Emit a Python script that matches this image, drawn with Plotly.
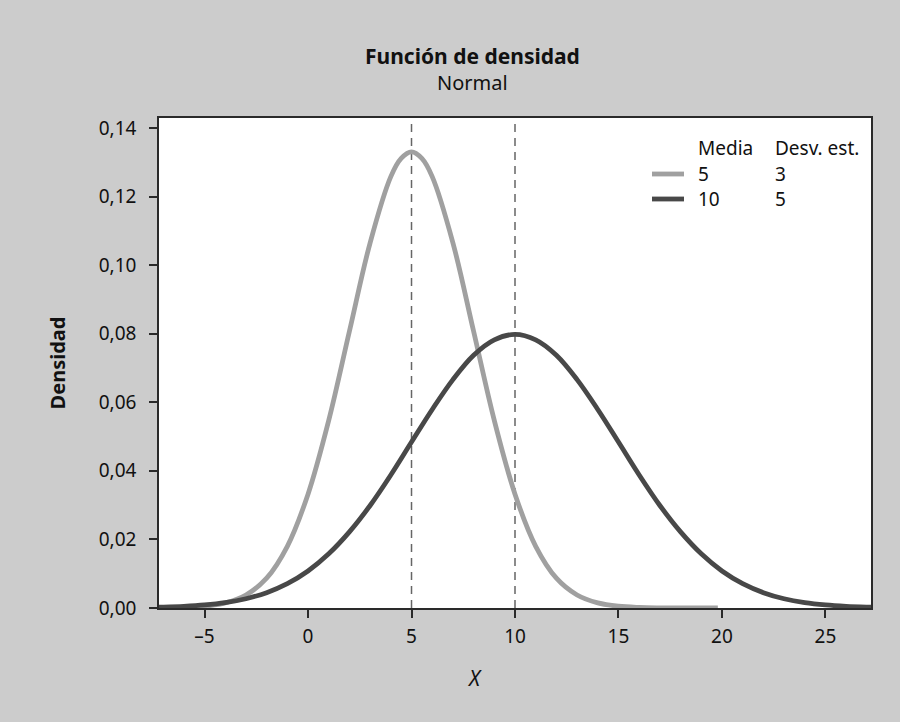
import plotly.graph_objects as go

# Values
x_light = [-7.5, -7, -6, -5, -4, -3, -2, -1, 0, 1, 2, 3, 4, 4.5, 5, 5.5, 6, 7, 8, 9, 10, 11, 12, 13, 14, 15, 16, 17, 18, 19, 19.8]
y_light = [0.00002, 0.00004, 0.00016, 0.00051, 0.00148, 0.0038, 0.0087, 0.0180, 0.0332, 0.0547, 0.0807, 0.1065, 0.1258, 0.1311,
           0.1330, 0.1311, 0.1258, 0.1065, 0.0807, 0.0547, 0.0332, 0.0180, 0.0087, 0.0038, 0.00148, 0.00051, 0.00016, 0.00004,
           0.00001, 0.0, 0.0]
x_dark = [-7.5, -7, -6, -5, -4, -3, -2, -1, 0, 1, 2, 3, 4, 5, 6, 7, 8, 9, 10, 11, 12, 13, 14, 15, 16, 17, 18, 19, 20,
          21, 22, 23, 24, 25, 26, 27, 27.5]
y_dark = [0.00018, 0.00025, 0.00048, 0.00089, 0.00158, 0.00271, 0.00448, 0.0071, 0.0108, 0.0158, 0.0222, 0.0299, 0.0388,
          0.0484, 0.0579, 0.0666, 0.0737, 0.0782, 0.0798, 0.0782, 0.0737, 0.0666, 0.0579, 0.0484, 0.0388, 0.0299, 0.0222,
          0.0158, 0.0108, 0.0071, 0.00448, 0.00271, 0.00158, 0.00089, 0.00048, 0.00025, 0.00018]
means = [5, 10]
sds = [3, 5]
x_ticks = [-5, 0, 5, 10, 15, 20, 25]
x_tick_labels = ["–5", "0", "5", "10", "15", "20", "25"]
y_ticks = [0, 0.02, 0.04, 0.06, 0.08, 0.10, 0.12, 0.14]
y_tick_labels = ["0,00", "0,02", "0,04", "0,06", "0,08", "0,10", "0,12", "0,14"]

LIGHT = "#a0a0a0"
DARK = "#484848"
BG = "#cccccc"
AX = "#2a2a2a"
FONT = "Noto Sans"
FS = 19

fig = go.Figure()
fig.add_trace(go.Scatter(x=x_light, y=y_light, mode="lines", line=dict(color=LIGHT, width=4.8, shape="spline"),
                         showlegend=False, cliponaxis=True))
fig.add_trace(go.Scatter(x=x_dark, y=y_dark, mode="lines", line=dict(color=DARK, width=4.8, shape="spline"),
                         showlegend=False, cliponaxis=True))

for m in means:
    fig.add_shape(type="line", xref="x", yref="paper", x0=m, x1=m, y0=0, y1=1,
                  line=dict(color="#666666", width=1.5, dash="8px,6px"), layer="below")

# pixel -> paper helpers (plot area in pixels)
px_l, px_r, px_t, px_b = 159, 871, 118, 608
def xp(p):
    return (p - px_l) / (px_r - px_l)
def yp(p):
    return (px_b - p) / (px_b - px_t)

def label(px, py, text, size=FS, anchor="left"):
    fig.add_annotation(x=xp(px), y=yp(py), xref="paper", yref="paper", text=text, showarrow=False,
                       xanchor=anchor, yanchor="middle", font=dict(family=FONT, size=size, color="#111"))

# Legend table
label(696, 148, "Media")
label(773, 148, "Desv. est.")
rows_y = [174, 199]
colors = [LIGHT, DARK]
for m, s, ry, c in zip(means, sds, rows_y, colors):
    fig.add_shape(type="line", xref="paper", yref="paper", x0=xp(652), x1=xp(684), y0=yp(ry), y1=yp(ry),
                  line=dict(color=c, width=4.8))
    label(696, ry, str(m))
    label(773, ry, str(s))

# Titles
label(472, 56, "<b>Función de densidad</b>", size=21, anchor="center")
label(472, 82, "Normal", size=20, anchor="center")
label(474, 678, "<i>X</i>", size=21, anchor="center")

fig.update_layout(
    width=900, height=722,
    paper_bgcolor=BG, plot_bgcolor="white",
    margin=dict(l=px_l, r=900 - px_r, t=px_t, b=722 - px_b, pad=0),
    font=dict(family=FONT, size=FS, color="#111"),
    xaxis=dict(range=[-7.2, 27.2], tickvals=x_ticks, ticktext=x_tick_labels,
               showgrid=False, zeroline=False, showline=True, linecolor=AX, linewidth=1.5, mirror=True,
               ticks="outside", ticklen=8, tickwidth=1.5, tickcolor=AX, ticklabelstandoff=2,
               tickfont=dict(size=FS)),
    yaxis=dict(range=[0, 0.1429], tickvals=y_ticks, ticktext=y_tick_labels,
               showgrid=False, zeroline=False, showline=True, linecolor=AX, linewidth=1.5, mirror=True,
               ticks="outside", ticklen=8, tickwidth=1.5, tickcolor=AX, ticklabelstandoff=9,
               tickfont=dict(size=FS),
               title=dict(text="<b>Densidad</b>", font=dict(size=20, family=FONT), standoff=28)),
    showlegend=False,
)

fig.write_html("out.html", config={"displayModeBar": False},
               post_script="document.body.style.margin='0';document.body.style.overflow='hidden';")
